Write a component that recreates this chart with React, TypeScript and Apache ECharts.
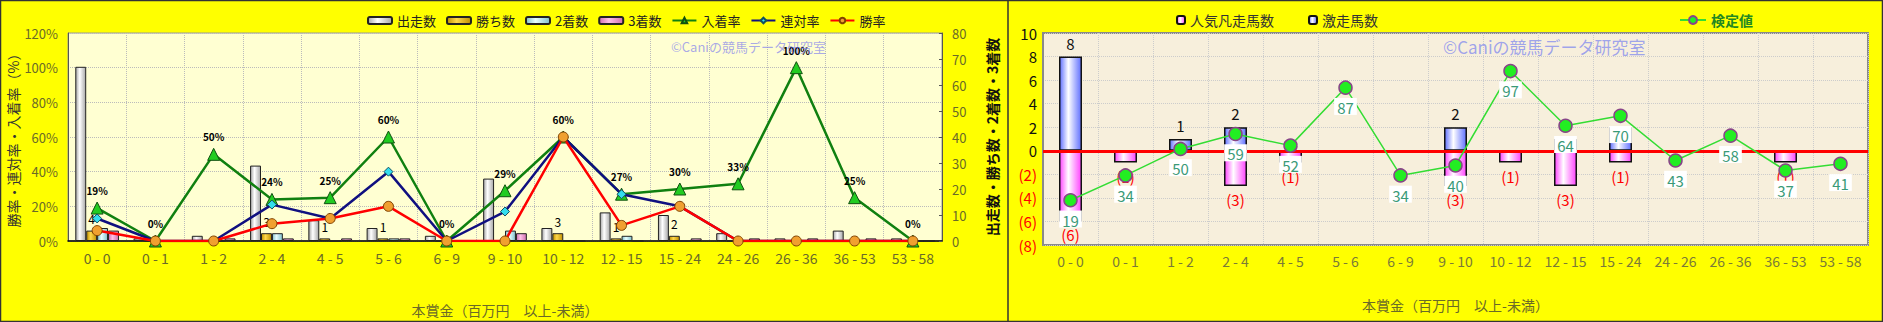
import React, { useEffect, useRef } from "react";
import * as echarts from "echarts";

const categories = [
  "0 - 0", "0 - 1", "1 - 2", "2 - 4", "4 - 5", "5 - 6", "6 - 9", "9 - 10",
  "10 - 12", "12 - 15", "15 - 24", "24 - 26", "26 - 36", "36 - 53", "53 - 58",
];

// left chart (counts, right axis)
const runners = [67, 1, 2, 29, 8, 5, 2, 24, 5, 11, 10, 3, 1, 4, 1];
const wins = [4, 0, 0, 3, 1, 1, 0, 0, 3, 1, 2, 0, 0, 0, 0];
const seconds = [5, 0, 0, 3, 0, 1, 0, 4, 0, 2, 0, 0, 0, 0, 0];
const thirds = [4, 0, 1, 1, 1, 1, 0, 3, 0, 0, 1, 1, 1, 1, 0];

// left chart (rates %, left axis)
const placeRate = [19, 0, 50, 24, 25, 60, 0, 29, 60, 27, 30, 33, 100, 25, 0];
const quinellaRate = [13, 0, 0, 21, 13, 40, 0, 17, 60, 27, 20, 0, 0, 0, 0];
const winRate = [6, 0, 0, 10, 13, 20, 0, 0, 60, 9, 20, 0, 0, 0, 0];

// right chart
const failCounts = [6, 1, 0, 3, 1, 0, 0, 3, 1, 3, 1, 0, 0, 1, 0];
const surgeCounts = [8, 0, 1, 2, 0, 0, 0, 2, 0, 1, 2, 0, 0, 0, 0];
const testValues = [19, 34, 50, 59, 52, 87, 34, 40, 97, 64, 70, 43, 58, 37, 41];

const leftTicksColor = "#6a6a28";
const FONT = '"Noto Sans CJK JP", "Noto Sans", sans-serif';

function hGrad(edge: string, mid: string) {
  return new echarts.graphic.LinearGradient(0, 0, 1, 0, [
    { offset: 0, color: edge },
    { offset: 0.4, color: mid },
    { offset: 1, color: edge },
  ]);
}

export default function App() {
  const ref = useRef<HTMLDivElement>(null);
  useEffect(() => {
    if (!ref.current) return;
    const chart = echarts.init(ref.current, undefined, { renderer: "svg" });
    const barCommon = {
      type: "bar",
      xAxisIndex: 0,
      yAxisIndex: 1,
      barGap: "0%",
      barCategoryGap: "25%",
    };
    const option: any = {
      animation: false,
      backgroundColor: "#ffff00",
      textStyle: { fontFamily: FONT },
      grid: [
        {
          left: 68, top: 33, width: 874, height: 211,
          show: true, backgroundColor: "#ffffd2", borderColor: "#999", borderWidth: 1,
        },
        {
          left: 1043, top: 33, width: 825, height: 212,
          show: true, backgroundColor: "#f7efdc", borderColor: "#8a8a8a", borderWidth: 2,
        },
      ],
      legend: [
        {
          left: 362, top: 9, itemWidth: 24, itemHeight: 7, itemGap: 10,
          textStyle: { fontSize: 13, color: "#222", fontFamily: FONT },
          data: ["出走数", "勝ち数", "2着数", "3着数", "入着率", "連対率", "勝率"],
        },
        {
          left: 1171, top: 8, itemWidth: 8, itemHeight: 8, itemGap: 34,
          textStyle: { fontSize: 14, color: "#333", fontFamily: FONT },
          data: ["人気凡走馬数", "激走馬数"],
        },
        {
          left: 1674, top: 8, itemWidth: 26, itemHeight: 10,
          textStyle: { fontSize: 14, color: "#228822", fontWeight: "bold", fontFamily: FONT },
          data: ["検定値"],
        },
      ],
      xAxis: [
        {
          gridIndex: 0, type: "category", data: categories,
          axisLine: { lineStyle: { color: "#000", width: 1.5 } },
          axisTick: { show: false },
          axisLabel: { color: leftTicksColor, fontSize: 14, margin: 10, interval: 0 },
          splitLine: { show: true, interval: 0, lineStyle: { color: "#bbb", type: "dotted" } },
          name: "本賞金（百万円　以上-未満）", nameLocation: "middle", nameGap: 62,
          nameTextStyle: { color: leftTicksColor, fontSize: 14 },
        },
        {
          gridIndex: 1, type: "category", data: categories,
          axisLine: { lineStyle: { color: "#8a8a8a", width: 2 } },
          axisTick: { show: false },
          axisLabel: { color: "#7a7a38", fontSize: 14, margin: 9, interval: 0 },
          splitLine: { show: true, interval: 0, lineStyle: { color: "#ccc", type: "dotted" } },
          name: "本賞金（百万円　以上-未満）", nameLocation: "middle", nameGap: 53,
          nameTextStyle: { color: leftTicksColor, fontSize: 14 },
        },
      ],
      yAxis: [
        {
          gridIndex: 0, type: "value", min: 0, max: 120, interval: 20, position: "left",
          axisLine: { show: true, lineStyle: { color: "#555" } },
          axisTick: { show: false },
          axisLabel: { formatter: "{value}%", color: leftTicksColor, fontSize: 13, margin: 10 },
          splitLine: { lineStyle: { color: "#bbb", type: "dotted" } },
          name: "勝率・連対率・入着率（%）", nameLocation: "middle", nameGap: 41, nameRotate: 90,
          nameTextStyle: { color: "#333", fontSize: 14 },
        },
        {
          gridIndex: 0, type: "value", min: 0, max: 80, interval: 10, position: "right",
          axisLine: { show: true, lineStyle: { color: "#555" } },
          axisTick: { show: true, length: 3, inside: true },
          axisLabel: { color: leftTicksColor, fontSize: 13, margin: 10 },
          splitLine: { show: false },
          name: "出走数・勝ち数・2着数・3着数", nameLocation: "middle", nameGap: 43, nameRotate: 90,
          nameTextStyle: { color: "#111", fontSize: 14, fontWeight: "bold" },
        },
        {
          gridIndex: 1, type: "value", min: -8, max: 10, interval: 2,
          axisLine: { show: true, lineStyle: { color: "#8a8a8a", width: 2 } },
          axisTick: { show: false },
          splitLine: { lineStyle: { color: "#ccc", type: "dotted" } },
          axisLabel: {
            margin: 6,
            formatter: (v: number) => (v < 0 ? `{neg|(${-v})}` : `{pos|${v}}`),
            rich: {
              neg: { color: "#ff0000", fontSize: 15, fontFamily: FONT },
              pos: { color: "#111", fontSize: 15, fontFamily: FONT },
            },
          },
        },
        { gridIndex: 1, type: "value", min: -8, max: 120, show: false, splitLine: { show: false } },
      ],
      graphic: [
        {
          type: "text", left: 671, top: 40, z: 5,
          style: { text: "©Caniの競馬データ研究室", fill: "rgba(120,120,240,0.65)", font: `13px ${FONT}` },
        },
        {
          type: "text", left: 1443, top: 38, z: 5,
          style: { text: "©Caniの競馬データ研究室", fill: "rgba(120,130,240,0.7)", font: `17px ${FONT}` },
        },
        {
          type: "rect", z: 50, shape: { x: 0.5, y: 0.5, width: 1882, height: 321 },
          style: { fill: "none", stroke: "#333", lineWidth: 1.5 },
        },
        {
          type: "line", z: 50, shape: { x1: 1008, y1: 0, x2: 1008, y2: 322 },
          style: { stroke: "#333", lineWidth: 1.5 },
        },
      ],
      series: [
        {
          ...barCommon, name: "出走数", data: runners,
          itemStyle: { color: hGrad("#a8a8a8", "#ffffff"), borderColor: "#222", borderWidth: 1 },
        },
        {
          ...barCommon, name: "勝ち数", data: wins,
          itemStyle: { color: hGrad("#c09000", "#ffd84a"), borderColor: "#222", borderWidth: 1 },
          label: {
            show: true, position: "top", distance: 6, color: "#000", fontSize: 12,
            formatter: (p: any) => (p.value > 0 ? String(p.value) : ""),
          },
        },
        {
          ...barCommon, name: "2着数", data: seconds,
          itemStyle: { color: hGrad("#80c0cc", "#e8ffff"), borderColor: "#222", borderWidth: 1 },
        },
        {
          ...barCommon, name: "3着数", data: thirds,
          itemStyle: { color: hGrad("#d070b0", "#ffc0e8"), borderColor: "#222", borderWidth: 1 },
        },
        {
          type: "line", name: "入着率", xAxisIndex: 0, yAxisIndex: 0, data: placeRate, z: 3,
          lineStyle: { color: "#108010", width: 2.5 },
          symbol: "triangle", symbolSize: 12,
          itemStyle: { color: "#22cc22", borderColor: "#105010", borderWidth: 1 },
          label: {
            show: true, position: "top", distance: 6, formatter: "{c}%",
            fontSize: 10, fontWeight: "bold", color: "#000",
          },
        },
        {
          type: "line", name: "連対率", xAxisIndex: 0, yAxisIndex: 0, data: quinellaRate, z: 4,
          lineStyle: { color: "#101080", width: 2.5 },
          symbol: "diamond", symbolSize: 9,
          itemStyle: { color: "#33ddee", borderColor: "#105060", borderWidth: 1 },
        },
        {
          type: "line", name: "勝率", xAxisIndex: 0, yAxisIndex: 0, data: winRate, z: 5,
          lineStyle: { color: "#ff0000", width: 2.5 },
          symbol: "circle", symbolSize: 10,
          itemStyle: { color: "#f0a030", borderColor: "#804000", borderWidth: 1 },
        },
        {
          type: "bar", name: "人気凡走馬数", xAxisIndex: 1, yAxisIndex: 2,
          data: failCounts.map((v) => (v > 0 ? -v : "-")),
          barWidth: 23, barGap: "-100%",
          itemStyle: {
            color: hGrad("#ff44ff", "#ffffff"), borderColor: "#111", borderWidth: 1.5,
          },
          label: {
            show: true, position: "bottom", distance: 6, color: "#ff0000", fontSize: 15,
            formatter: (p: any) => `(${-p.value})`,
          },
        },
        {
          type: "bar", name: "激走馬数", xAxisIndex: 1, yAxisIndex: 2,
          data: surgeCounts.map((v) => (v > 0 ? v : "-")),
          barWidth: 23, barGap: "-100%",
          itemStyle: {
            color: hGrad("#6070ff", "#ffffff"), borderColor: "#111", borderWidth: 1.5,
          },
          label: { show: true, position: "top", distance: 6, color: "#111", fontSize: 15 },
          markLine: {
            silent: true, symbol: ["none", "none"], label: { show: false },
            lineStyle: { color: "#ff0000", width: 3, type: "solid" },
            data: [{ yAxis: 0 }],
          },
        },
        {
          type: "line", name: "検定値", xAxisIndex: 1, yAxisIndex: 3, data: testValues, z: 6,
          lineStyle: { color: "#33dd33", width: 1.5 },
          symbol: "circle", symbolSize: 13,
          itemStyle: { color: "#22ee22", borderColor: "#884488", borderWidth: 1.5 },
          label: {
            show: true, position: "bottom", distance: 3, color: "#3a9a78", fontSize: 15,
            backgroundColor: "#ffffff", padding: [2, 3, 0, 3],
          },
        },
      ],
    };
    chart.setOption(option);
    return () => chart.dispose();
  }, []);
  return (
    <div
      ref={ref}
      style={{ position: "fixed", left: 0, top: 0, width: 1883, height: 322 }}
    />
  );
}
